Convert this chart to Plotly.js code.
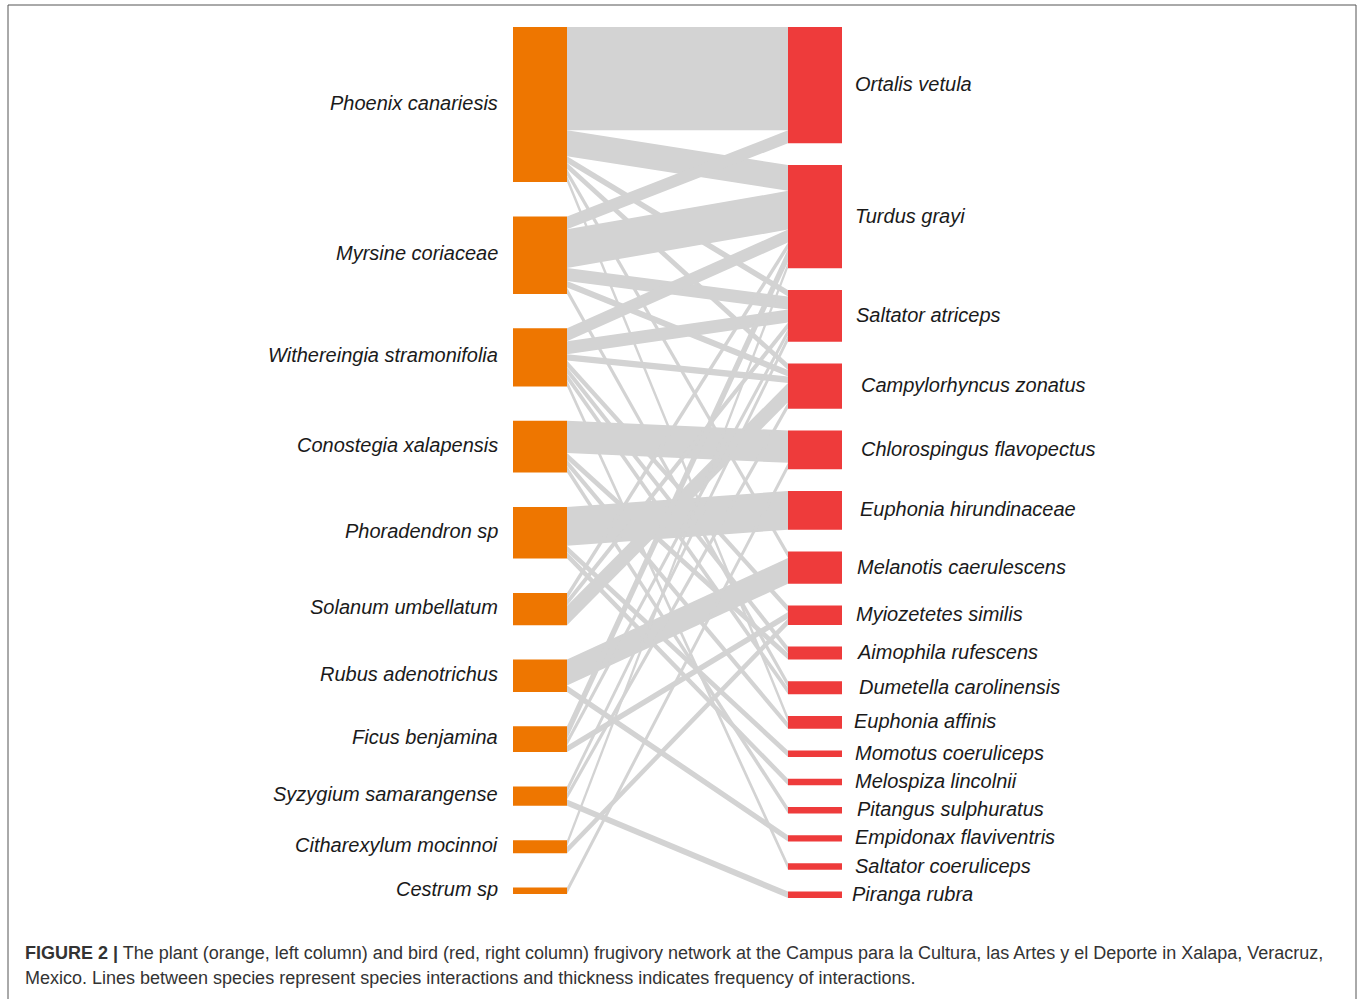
<!DOCTYPE html>
<html>
<head>
<meta charset="utf-8">
<script src="https://cdn.plot.ly/plotly-3.0.1.min.js"></script>
<style>html,body{margin:0;padding:0;background:#fff;}#chart{width:1360px;height:999px;}</style>
</head>
<body>
<div id="chart"></div>
<script>
// ---- data ----
const plants = ["Phoenix canariesis","Myrsine coriaceae","Withereingia stramonifolia","Conostegia xalapensis",
  "Phoradendron sp","Solanum umbellatum","Rubus adenotrichus","Ficus benjamina","Syzygium samarangense",
  "Citharexylum mocinnoi","Cestrum sp"];
const birds = ["Ortalis vetula","Turdus grayi","Saltator atriceps","Campylorhyncus zonatus","Chlorospingus flavopectus",
  "Euphonia hirundinaceae","Melanotis caerulescens","Myiozetetes similis","Aimophila rufescens","Dumetella carolinensis",
  "Euphonia affinis","Momotus coeruliceps","Melospiza lincolnii","Pitangus sulphuratus","Empidonax flaviventris",
  "Saltator coeruliceps","Piranga rubra"];
// interaction counts: one row per plant, one column per bird (same order as birds)
const interactions = [
  [16,4,1,1,0,0,1,0,0,0,1,0,0,0,0,0,0], // Phoenix canariesis
  [2,6,2,1,0,0,0,0,0,1,0,0,0,0,0,0,0],  // Myrsine coriaceae
  [0,2,2,1,0,0,0,1,1,1,0,0,0,0,0,1,0],  // Withereingia stramonifolia
  [0,0,0,0,5,0,0,0,1,0,1,0,0,1,0,0,0],  // Conostegia xalapensis
  [0,0,0,0,0,6,0,0,0,0,0,1,1,0,0,0,0],  // Phoradendron sp
  [0,1,1,3,0,0,0,0,0,0,0,0,0,0,0,0,0],  // Solanum umbellatum
  [0,0,0,0,0,0,4,0,0,0,0,0,0,0,1,0,0],  // Rubus adenotrichus
  [0,2,1,0,0,0,0,1,0,0,0,0,0,0,0,0,0],  // Ficus benjamina
  [0,0,1,1,0,0,0,0,0,0,0,0,0,0,0,0,1],  // Syzygium samarangense
  [0,1,0,0,0,0,0,1,0,0,0,0,0,0,0,0,0],  // Citharexylum mocinnoi
  [0,0,0,0,1,0,0,0,0,0,0,0,0,0,0,0,0]   // Cestrum sp
];
const captionBold = "FIGURE 2 |";
const captionLine1 = " The plant (orange, left column) and bird (red, right column) frugivory network at the Campus para la Cultura, las Artes y el Deporte in Xalapa, Veracruz,";
const captionLine2 = "Mexico. Lines between species represent species interactions and thickness indicates frequency of interactions.";

// ---- styling / geometry ----
const plantColor = "#EE7600", birdColor = "#EE3B3B", linkColor = "#D3D3D3";
const colTop = 27, leftBottom = 894, rightBottom = 898;
const leftX0 = 513, leftX1 = 567, rightX0 = 788, rightX1 = 842;
const birdLabelNudge = [0,0,1,6,6,5,2,1,2,4,-1,0,0,2,0,0,-3];

const plantTot = interactions.map(r => r.reduce((a,b)=>a+b,0));
const birdTot = birds.map((_,j) => interactions.reduce((a,r)=>a+r[j],0));
const total = plantTot.reduce((a,b)=>a+b,0);
const unit = 6.46;
const gapL = (leftBottom - colTop - total*unit)/(plants.length-1);
const gapR = (rightBottom - colTop - total*unit)/(birds.length-1);

function layoutCol(tots, gap){
  const out=[]; let y=colTop;
  tots.forEach(t=>{ out.push([y, y+t*unit]); y += t*unit + gap; });
  return out;
}
const pPos = layoutCol(plantTot, gapL);
const bPos = layoutCol(birdTot, gapR);

const traces = [];
const pOff = pPos.map(p=>p[0]);
const bOff = bPos.map(p=>p[0]);
const linkSegs = [];
interactions.forEach((row,i)=>{
  row.forEach((v,j)=>{
    if(!v) return;
    const h = v*unit;
    linkSegs.push({i,j,yl0:pOff[i], yl1:pOff[i]+h, yr0:0, yr1:0, h});
    pOff[i]+=h;
  });
});
for(let j=0;j<birds.length;j++){
  linkSegs.filter(s=>s.j===j).sort((a,b)=>a.i-b.i).forEach(s=>{
    s.yr0 = bOff[j]; s.yr1 = bOff[j]+s.h; bOff[j]+=s.h;
  });
}
linkSegs.forEach(s=>{
  traces.push({type:"scatter", mode:"lines", x:[leftX1,rightX0,rightX0,leftX1,leftX1],
    y:[s.yl0,s.yr0,s.yr1,s.yl1,s.yl0], fill:"toself", fillcolor:linkColor,
    line:{width:0, color:linkColor}, hoverinfo:"skip", showlegend:false});
});
function box(x0,x1,y0,y1,c){
  return {type:"scatter", mode:"lines", x:[x0,x1,x1,x0,x0], y:[y0,y0,y1,y1,y0], fill:"toself",
    fillcolor:c, line:{width:0,color:c}, hoverinfo:"skip", showlegend:false};
}
pPos.forEach(p=>traces.push(box(leftX0,leftX1,p[0],p[1],plantColor)));
bPos.forEach(p=>traces.push(box(rightX0,rightX1,p[0],p[1],birdColor)));

const labelFont = {family:"Liberation Sans, Arial, sans-serif", size:20, color:"#1a1a1a"};
const annotations = [];
plants.forEach((n,i)=>annotations.push({x:500, y:(pPos[i][0]+pPos[i][1])/2 - 2, xref:"x", yref:"y",
  text:"<i>"+n+"</i>", showarrow:false, xanchor:"right", yanchor:"middle", font:labelFont}));
birds.forEach((n,j)=>annotations.push({x:853+birdLabelNudge[j], y:(bPos[j][0]+bPos[j][1])/2 - 1, xref:"x", yref:"y",
  text:"<i>"+n+"</i>", showarrow:false, xanchor:"left", yanchor:"middle", font:labelFont}));
const capFont = {family:"Liberation Sans, Arial, sans-serif", size:18, color:"#333"};
annotations.push({x:23, y:953, xref:"x", yref:"y", xanchor:"left", yanchor:"middle", showarrow:false,
  text:"<b>"+captionBold+"</b>"+captionLine1, font:capFont});
annotations.push({x:23, y:978, xref:"x", yref:"y", xanchor:"left", yanchor:"middle", showarrow:false,
  text:captionLine2, font:capFont});

const layout = {
  width:1360, height:999, margin:{l:0,r:0,t:0,b:0}, paper_bgcolor:"#fff", plot_bgcolor:"#fff",
  xaxis:{range:[0,1360], visible:false, fixedrange:true},
  yaxis:{range:[999,0], visible:false, fixedrange:true},
  showlegend:false, annotations,
  shapes:[{type:"rect", xref:"x", yref:"y", x0:8, x1:1356, y0:5, y1:1010, line:{color:"#555", width:1}}]
};
Plotly.newPlot("chart", traces, layout, {staticPlot:true});
</script>
</body>
</html>
